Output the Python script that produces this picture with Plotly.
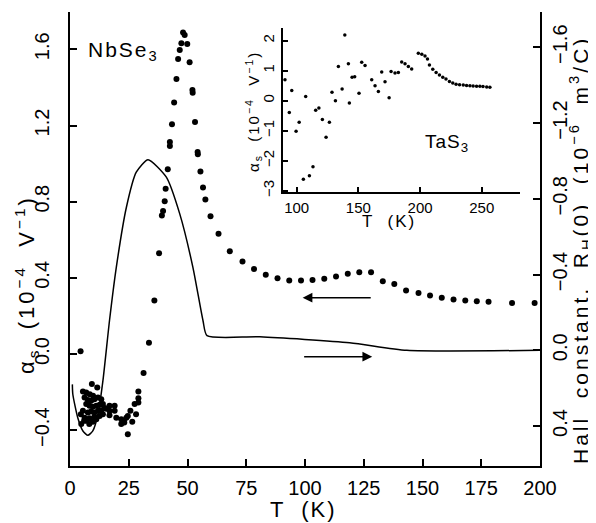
import plotly.graph_objects as go

# ---------------- data ----------------
# NbSe3 alpha_s (1e-4 V^-1) vs T (K)
nbse3_T = [4.5, 9.3, 11.6, 5.5, 6.9, 8.4, 9.8, 6.2, 7.6, 9.0, 10.4, 11.9, 13.3,
           6.9, 8.3, 9.7, 11.2, 12.6, 14.0, 5.5, 7.6, 9.0, 10.4, 11.9, 13.3, 14.7,
           6.2, 8.3, 10.4, 12.6, 14.0, 4.8, 6.9, 9.7, 11.2, 15.4, 4.6, 6.0, 8.2,
           16.8, 16.8, 16.8, 19.0, 19.0, 19.7, 21.8, 21.8, 22.9, 23.1, 24.0, 24.6,
           24.6, 25.7, 26.5, 27.5, 28.1, 29.1, 29.1, 29.1, 31.3, 33.6, 35.9, 37.9,
           39.1, 39.6, 40.3, 40.7, 41.6, 42.5, 42.5, 43.4, 44.3, 45.3, 46.0, 46.7,
           47.4, 48.1, 48.8, 49.9, 50.9, 52.1, 52.2, 53.2, 54.3, 54.4, 55.5, 56.6,
           57.6, 59.8, 63.2, 68.0, 73.4, 78.3, 83.3, 88.3, 93.3, 98.3, 103.2,
           108.2, 113.2, 118.2, 123.1, 128.1, 133.1, 138.0, 143.0, 148.3, 153.2,
           158.2, 163.2, 168.2, 173.1, 178.1, 188.1, 197.7]
nbse3_alpha = [0.014, -0.158, -0.176, -0.197, -0.202, -0.211, -0.219, -0.228,
               -0.242, -0.246, -0.237, -0.228, -0.237, -0.263, -0.272, -0.277,
               -0.272, -0.267, -0.263, -0.298, -0.307, -0.302, -0.307, -0.298,
               -0.295, -0.284, -0.334, -0.337, -0.330, -0.325, -0.316, -0.368,
               -0.351, -0.355, -0.342, -0.288, -0.316, -0.350, -0.368,
               -0.272, -0.298, -0.321, -0.298, -0.272, -0.334, -0.342, -0.368,
               -0.351, -0.360, -0.334, -0.325, -0.421, -0.298, -0.355, -0.263,
               -0.316, -0.197, -0.232, -0.255, -0.100, 0.059, 0.281, 0.529,
               0.728, 0.751, 0.802, 0.868, 0.970, 1.114, 1.093, 1.207, 1.321,
               1.444, 1.549, 1.596, 1.632, 1.689, 1.675, 1.628, 1.532, 1.386,
               1.372, 1.219, 1.061, 1.049, 0.958, 0.874, 0.811, 0.724, 0.632,
               0.540, 0.486, 0.447, 0.416, 0.398, 0.386, 0.386, 0.389, 0.395,
               0.407, 0.421, 0.429, 0.429, 0.382, 0.368, 0.333, 0.321, 0.307,
               0.295, 0.286, 0.281, 0.277, 0.275, 0.268, 0.268]

# Hall constant R_H(0) (1e-6 m^3/C) vs T (K), right axis (inverted)
hall_T = [1.0, 1.2, 3.3, 5.5, 7.6, 9.7, 11.9, 14.0, 16.8, 19.7, 24.0, 28.2, 33.2,
          41.0, 46.7, 52.3, 56.6, 58.3, 80.8, 119.0, 143.3, 200.0]
hall_R = [0.18, 0.232, 0.356, 0.426, 0.449, 0.426, 0.338, 0.162, -0.156, -0.438,
          -0.755, -0.94, -1.006, -0.914, -0.72, -0.438, -0.156, -0.077, -0.071,
          -0.04, 0.0, 0.0]

# Inset: TaS3 alpha_s vs T
tas3_T = [90.5, 94.0, 96.0, 99.5, 102.0, 105.4, 107.3, 110.3, 113.2, 115.4, 118.0,
          120.8, 123.8, 126.5, 128.6, 131.4, 133.8, 136.8, 139.0, 141.9, 142.7,
          144.9, 147.0, 150.5, 152.7, 155.4, 160.8, 163.5, 166.2, 168.9, 171.6,
          174.9, 176.5, 179.7, 182.4, 185.1, 187.8, 190.5, 193.2, 198.6, 201.4,
          204.0, 206.0, 207.6, 210.3, 213.0, 215.7, 218.4, 221.0, 223.8, 226.5,
          229.2, 232.0, 235.0, 237.7, 240.4, 243.0, 245.8, 248.5, 251.0, 254.0,
          256.6]
tas3_alpha = [0.70, -0.39, 0.34, -1.02, -0.72, -2.62, 0.14, -2.50, -2.20, -0.32,
              -0.24, -0.63, -1.22, -0.72, 0.28, 0.0, 1.14, 0.39, 2.19, 1.23, -0.08,
              0.78, 0.80, 0.25, 1.28, 1.17, 0.70, 0.50, 0.31, 0.96, 0.63, 0.10,
              0.97, 0.92, 0.94, 1.29, 1.23, 1.14, 1.06, 1.58, 1.55, 1.49, 1.39,
              1.19, 1.05, 0.94, 0.86, 0.78, 0.72, 0.64, 0.59, 0.55, 0.53, 0.52,
              0.51, 0.50, 0.49, 0.48, 0.48, 0.47, 0.46, 0.45]

x_ticks = [0, 25, 50, 75, 100, 125, 150, 175, 200]
left_ticks = [-0.4, 0.0, 0.4, 0.8, 1.2, 1.6]
right_ticks = [-1.6, -1.2, -0.8, -0.4, 0.0, 0.4]
inset_x_ticks = [100, 150, 200, 250]
inset_y_ticks = [-3, -2, -1, 0, 1, 2]

# ---------------- layout geometry (pixels, in the 596x523 window) ----------------
WIN_W, WIN_H = 596, 523
OFF = 8                      # default page body margin of the html page
W, H = WIN_W - OFF, WIN_H - OFF
L, R, T, B = 70, 540, 12, 466  # plot-area edges as seen in the window


def px(xp):
    return (xp - L) / (R - L)


def py(yp):
    return (B - yp) / (B - T)


FONT = "Liberation Sans"
BLACK = "black"

fig = go.Figure()

fig.add_trace(go.Scatter(
    x=nbse3_T, y=nbse3_alpha, mode="markers", xaxis="x", yaxis="y",
    marker=dict(color=BLACK, size=6), showlegend=False))

fig.add_trace(go.Scatter(
    x=hall_T, y=hall_R, mode="lines", xaxis="x", yaxis="y3",
    line=dict(color=BLACK, width=1.5, shape="spline", smoothing=0.6),
    showlegend=False))

fig.add_trace(go.Scatter(
    x=tas3_T, y=tas3_alpha, mode="markers", xaxis="x2", yaxis="y2",
    marker=dict(color=BLACK, size=3.5), showlegend=False))

axis_common = dict(showgrid=False, zeroline=False, showline=True,
                   linecolor=BLACK, linewidth=1.5, ticks="inside",
                   tickcolor=BLACK, tickwidth=1.5, mirror=False,
                   automargin=False)

fig.update_layout(
    template="none",
    width=W, height=H,
    margin=dict(l=L - OFF, r=WIN_W - R, t=T - OFF, b=WIN_H - B, pad=0,
                autoexpand=False),
    paper_bgcolor="white", plot_bgcolor="white",
    font=dict(family=FONT, color=BLACK, size=20),
    xaxis=dict(**axis_common, range=[0, 200], tickvals=x_ticks,
               ticklen=7, tickfont=dict(size=20), ticklabelstandoff=3,
               domain=[0, 1]),
    yaxis=dict(**axis_common, range=[-0.588, 1.796], tickvals=left_ticks,
               tickformat=".1f", ticklen=7, tickangle=-90,
               tickfont=dict(size=20), ticklabelstandoff=11),
    yaxis3=dict(**axis_common, overlaying="y", side="right",
                range=[0.611, -1.786], tickvals=right_ticks,
                tickformat=".1f", ticklen=7, tickangle=-90,
                tickfont=dict(size=20), ticklabelstandoff=1),
    xaxis2=dict(**axis_common, anchor="y2", domain=[px(283), px(520)],
                range=[88.9, 281], tickvals=inset_x_ticks, ticklen=5,
                tickfont=dict(size=15), ticklabelstandoff=1),
    yaxis2=dict(**axis_common, anchor="x2", domain=[py(192), py(28)],
                range=[-3.043, 2.423], tickvals=inset_y_ticks, ticklen=5,
                tickangle=-90, tickfont=dict(size=15), ticklabelstandoff=1),
)


def spaced(text, ls):
    return f'<span style="letter-spacing:{ls}px">{text}</span>'


def label(xp, yp, text, size, angle=0, xanchor="center"):
    return dict(xref="paper", yref="paper", x=px(xp), y=py(yp), text=text,
                textangle=angle, showarrow=False, xanchor=xanchor,
                yanchor="middle", font=dict(size=size))


alpha_title = "α<sub>s</sub>  (10<sup>−4</sup>  V<sup>−1</sup>)"
hall_title = "Hall  constant,  R<sub>H</sub>(0)  (10<sup>−6</sup>  m<sup>3</sup>/C)"

ann = [
    label(26, 285, spaced(alpha_title, 3), 22, -90),
    label(580, 250, spaced(hall_title, 3), 21, -90),
    label(303, 509, spaced("T  (K)", 2), 22),
    label(389, 221, spaced("T  (K)", 2), 17),
    label(253, 112, spaced(alpha_title, 2), 15, -90),
    label(86, 51, spaced("NbSe<sub>3</sub>", 2), 21, 0, "left"),
    label(423, 143, spaced("TaS<sub>3</sub>", 1), 19, 0, "left"),
]
# arrows: left-pointing (to alpha_s, left axis) and right-pointing (Hall, right axis)
ann.append(dict(xref="x", yref="y", axref="x", ayref="y",
                x=99.0, y=0.296, ax=128.6, ay=0.296, text="",
                showarrow=True, arrowhead=2, arrowsize=1.3, arrowwidth=1.5,
                arrowcolor=BLACK))
ann.append(dict(xref="x", yref="y", axref="x", ayref="y",
                x=128.6, y=-0.014, ax=99.0, ay=-0.014, text="",
                showarrow=True, arrowhead=2, arrowsize=1.3, arrowwidth=1.5,
                arrowcolor=BLACK))
fig.update_layout(annotations=ann)

fig.write_html("out.html")
